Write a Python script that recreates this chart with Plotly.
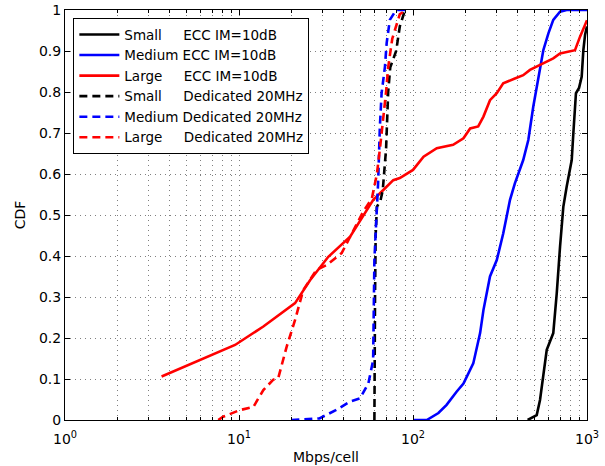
import plotly.graph_objects as go

# ---- data ----
small_ecc_x = [456, 514, 537, 587, 640, 670, 700, 731, 764, 817, 835, 864, 900, 932, 953, 975, 1000]
small_ecc_y = [0.0, 0.012, 0.049, 0.171, 0.212, 0.309, 0.423, 0.52, 0.569, 0.634, 0.70, 0.797, 0.81, 0.837, 0.902, 0.94, 0.96]

med_ecc_x = [100, 120, 140, 156, 178, 195, 222, 243, 254, 277, 303, 330, 361, 385, 430, 460, 491, 525, 561, 600, 640, 700, 764, 1000]
med_ecc_y = [0.0, 0.0, 0.017, 0.037, 0.069, 0.089, 0.138, 0.212, 0.268, 0.35, 0.39, 0.455, 0.537, 0.577, 0.634, 0.683, 0.764, 0.829, 0.902, 0.943, 0.976, 0.996, 1.0, 1.0]

large_ecc_x = [3.59, 9.49, 13.8, 21, 25.6, 32.6, 43.5, 54.2, 59.1, 67.5, 77, 84, 100, 115, 137, 170, 195, 213, 237, 254, 277, 303, 330, 385, 430, 470, 561, 640, 700, 853, 912, 975, 1000]
large_ecc_y = [0.106, 0.183, 0.228, 0.285, 0.341, 0.398, 0.447, 0.512, 0.537, 0.561, 0.585, 0.59, 0.61, 0.642, 0.663, 0.671, 0.687, 0.711, 0.716, 0.74, 0.78, 0.797, 0.821, 0.833, 0.841, 0.854, 0.87, 0.882, 0.894, 0.902, 0.935, 0.967, 0.975]

small_ded_x = [60, 60, 60.5, 61, 62, 65, 67, 70, 72, 74, 80, 84, 88, 90]
small_ded_y = [0.0, 0.1, 0.3, 0.45, 0.52, 0.535, 0.56, 0.66, 0.8, 0.86, 0.9, 0.96, 0.99, 1.0]

med_ded_x = [20, 29, 36, 43.5, 49.6, 55.4, 59, 59.5, 60, 61, 63, 64.5, 66, 69, 70.6, 73.6, 80, 95]
med_ded_y = [0.0, 0.004, 0.024, 0.045, 0.053, 0.089, 0.146, 0.25, 0.39, 0.455, 0.577, 0.715, 0.797, 0.862, 0.92, 0.976, 1.0, 1.0]

large_ded_x = [7.6, 8.1, 10.1, 12.1, 13.8, 15.7, 16.8, 18.8, 21, 23.4, 27.9, 31.9, 38.9, 45, 52, 58, 62, 64.5, 67, 70, 72, 76, 84, 92]
large_ded_y = [0.0, 0.008, 0.024, 0.032, 0.073, 0.098, 0.102, 0.179, 0.244, 0.317, 0.366, 0.378, 0.407, 0.46, 0.51, 0.54, 0.6, 0.66, 0.72, 0.8, 0.86, 0.93, 0.99, 1.0]

names = [
    "Small\u00a0\u00a0\u00a0\u00a0 ECC IM=10dB",
    "Medium ECC IM=10dB",
    "Large\u00a0\u00a0\u00a0\u00a0 ECC IM=10dB",
    "Small\u00a0\u00a0\u00a0\u00a0 Dedicated 20MHz",
    "Medium Dedicated 20MHz",
    "Large\u00a0\u00a0\u00a0\u00a0 Dedicated 20MHz",
]

y_tick_vals = [0, 0.1, 0.2, 0.3, 0.4, 0.5, 0.6, 0.7, 0.8, 0.9, 1]
y_tick_text = ["0", "0.1", "0.2", "0.3", "0.4", "0.5", "0.6", "0.7", "0.8", "0.9", "1"]
x_tick_vals = [1, 10, 100, 1000]
x_tick_text = ["10<sup>0</sup>", "10<sup>1</sup>", "10<sup>2</sup>", "10<sup>3</sup>"]
x_minor_vals = [m * d for d in (1, 10, 100) for m in range(2, 10)]

series = [
    (small_ecc_x, small_ecc_y, "black", "solid"),
    (med_ecc_x, med_ecc_y, "#0000ff", "solid"),
    (large_ecc_x, large_ecc_y, "#ff0000", "solid"),
    (small_ded_x, small_ded_y, "black", "8px,5px"),
    (med_ded_x, med_ded_y, "#0000ff", "8px,5px"),
    (large_ded_x, large_ded_y, "#ff0000", "8px,5px"),
]

fig = go.Figure()
for (xs, ys, col, dash), nm in zip(series, names):
    fig.add_trace(go.Scatter(x=xs, y=ys, mode="lines", name=nm,
                             line=dict(color=col, width=2.6, dash=dash)))

font_family = "DejaVu Sans, Arial, sans-serif"
grid_color = "rgba(0,0,0,0.5)"

fig.update_layout(
    width=605, height=466,
    margin=dict(l=65, r=18, t=10, b=46, pad=0),
    paper_bgcolor="white", plot_bgcolor="white",
    font=dict(family=font_family, size=14, color="black"),
    showlegend=True,
    legend=dict(x=0.016, y=0.98, xanchor="left", yanchor="top",
                bgcolor="white", bordercolor="black", borderwidth=1,
                font=dict(size=13.5), tracegroupgap=0, itemwidth=40),
    xaxis=dict(type="log", range=[0, 3], automargin=False,
               tickmode="array", tickvals=x_tick_vals, ticktext=x_tick_text,
               ticks="inside", ticklen=5, tickcolor="black",
               ticklabelstandoff=6, ticklabeloverflow="allow",
               showline=True, linecolor="black", linewidth=1, mirror="ticks",
               showgrid=True, gridcolor=grid_color, griddash="1px,4px", gridwidth=1,
               minor=dict(tickmode="array", tickvals=x_minor_vals, ticks="inside",
                          ticklen=3, tickcolor="black", showgrid=True,
                          gridcolor=grid_color, griddash="1px,4px", gridwidth=1),
               zeroline=False,
               title=dict(text="Mbps/cell", font=dict(size=14), standoff=6),
               tickfont=dict(size=14)),
    yaxis=dict(range=[0, 1], automargin=False,
               tickmode="array", tickvals=y_tick_vals, ticktext=y_tick_text,
               ticks="inside", ticklen=5, tickcolor="black",
               ticklabeloverflow="allow",
               showline=True, linecolor="black", linewidth=1, mirror="ticks",
               showgrid=True, gridcolor=grid_color, griddash="1px,4px", gridwidth=1,
               zeroline=False,
               title=dict(text="CDF", font=dict(size=14), standoff=10),
               tickfont=dict(size=14)),
)

# remove the default 8px page margin so the figure fills the 605x466 window exactly
fig.write_html("out.html", config={"displayModeBar": False},
               post_script="document.body.style.margin='0';")
